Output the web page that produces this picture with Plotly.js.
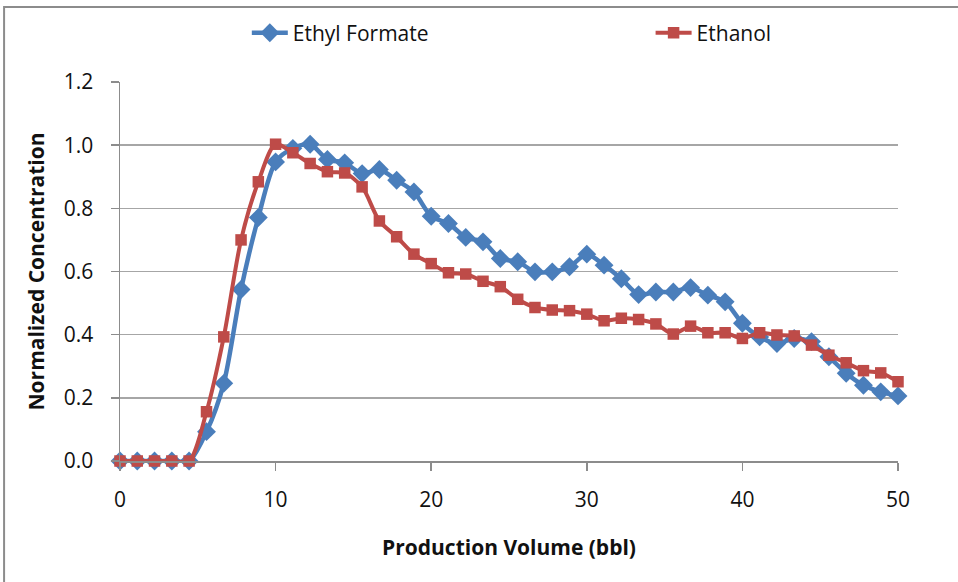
<!DOCTYPE html>
<html>
<head>
<meta charset="utf-8">
<script src="https://cdn.plot.ly/plotly-3.0.1.min.js"></script>
<style>
  html, body { margin: 0; padding: 0; background: #ffffff; }
  #chart { width: 958px; height: 582px; }
</style>
</head>
<body>
<div id="chart"></div>
<script>
// Production volume (bbl) for each sample
const volume = [0, 1.11, 2.22, 3.33, 4.44, 5.56, 6.67, 7.78, 8.89, 10,
  11.11, 12.22, 13.33, 14.44, 15.56, 16.67, 17.78, 18.89, 20, 21.11,
  22.22, 23.33, 24.44, 25.56, 26.67, 27.78, 28.89, 30, 31.11, 32.22,
  33.33, 34.44, 35.56, 36.67, 37.78, 38.89, 40, 41.11, 42.22, 43.33,
  44.44, 45.56, 46.67, 47.78, 48.89, 50];

// Normalized concentration of each tracer
const ethylFormate = [0, 0, 0, 0, 0, 0.093, 0.246, 0.543, 0.771, 0.947,
  0.99, 1.003, 0.955, 0.944, 0.91, 0.923, 0.889, 0.852, 0.775, 0.752,
  0.708, 0.694, 0.641, 0.631, 0.599, 0.599, 0.615, 0.655, 0.62, 0.577,
  0.527, 0.535, 0.535, 0.549, 0.525, 0.504, 0.436, 0.393, 0.372, 0.388,
  0.378, 0.33, 0.278, 0.24, 0.219, 0.206];

const ethanol = [0, 0, 0, 0, 0, 0.156, 0.393, 0.70, 0.884, 1.003,
  0.976, 0.942, 0.916, 0.912, 0.868, 0.76, 0.71, 0.655, 0.625, 0.596,
  0.592, 0.569, 0.552, 0.512, 0.486, 0.478, 0.476, 0.465, 0.444, 0.452,
  0.448, 0.434, 0.402, 0.427, 0.406, 0.406, 0.388, 0.406, 0.399, 0.396,
  0.367, 0.335, 0.311, 0.286, 0.279, 0.251];

const seriesNames = ['Ethyl Formate', 'Ethanol'];
const xTicks = [0, 10, 20, 30, 40, 50];

const FONT = '"Open Sans", Lato, "Liberation Sans", sans-serif';
const TEXT = '#111111';

const traces = [
  {
    x: volume, y: ethylFormate, name: seriesNames[0], legend: 'legend',
    type: 'scatter', mode: 'lines+markers', cliponaxis: false,
    line: { color: '#4A7EBB', width: 4.5, shape: 'spline', smoothing: 0.8 },
    marker: { symbol: 'diamond', size: 14.5, color: '#4A7EBB' }
  },
  {
    x: volume, y: ethanol, name: seriesNames[1], legend: 'legend2',
    type: 'scatter', mode: 'lines+markers', cliponaxis: false,
    line: { color: '#BE4B48', width: 4, shape: 'spline', smoothing: 0.8 },
    marker: { symbol: 'square', size: 11.5, color: '#BE4B48' }
  }
];

const legendBase = {
  orientation: 'h', y: 1.129, yanchor: 'middle', xanchor: 'left',
  bgcolor: 'rgba(0,0,0,0)', itemwidth: 36,
  font: { family: FONT, size: 21, color: TEXT }
};

const layout = {
  width: 958, height: 582,
  margin: { l: 120, r: 60, t: 82, b: 121, autoexpand: false },
  paper_bgcolor: '#ffffff', plot_bgcolor: '#ffffff',
  font: { family: FONT, size: 21, color: TEXT },
  showlegend: true,
  legend: Object.assign({}, legendBase, { x: 0.163 }),
  legend2: Object.assign({}, legendBase, { x: 0.682 }),
  xaxis: {
    range: [0, 50], tickvals: xTicks, ticktext: xTicks.map(String),
    showgrid: false, zeroline: false,
    showline: true, linecolor: '#8c8c8c', linewidth: 1.5,
    ticks: 'outside', ticklen: 8, tickcolor: '#8c8c8c', tickwidth: 1.5,
    ticklabelstandoff: 11,
    tickfont: { family: FONT, size: 21, color: TEXT },
    title: { text: 'Production Volume (bbl)', standoff: 28,
      font: { family: FONT, size: 21, color: TEXT, weight: 'bold' } }
  },
  yaxis: {
    range: [0, 1.2], dtick: 0.2, tick0: 0, tickformat: '.1f',
    showgrid: true, gridcolor: '#a6a6a6', gridwidth: 1.5, zeroline: false,
    showline: true, linecolor: '#8c8c8c', linewidth: 1.5,
    ticks: 'outside', ticklen: 8, tickcolor: '#8c8c8c', tickwidth: 1.5,
    ticklabelstandoff: 13,
    tickfont: { family: FONT, size: 21, color: TEXT },
    title: { text: 'Normalized Concentration', standoff: 13,
      font: { family: FONT, size: 21, color: TEXT, weight: 'bold' } }
  },
  shapes: [
    { type: 'rect', xref: 'paper', yref: 'paper',
      x0: -0.149, x1: 1.09, y0: -0.36, y1: 1.198,
      line: { color: '#8c8c8c', width: 2 }, fillcolor: 'rgba(0,0,0,0)', layer: 'below' }
  ]
};

Plotly.newPlot('chart', traces, layout, { displayModeBar: false, staticPlot: true });
</script>
</body>
</html>
